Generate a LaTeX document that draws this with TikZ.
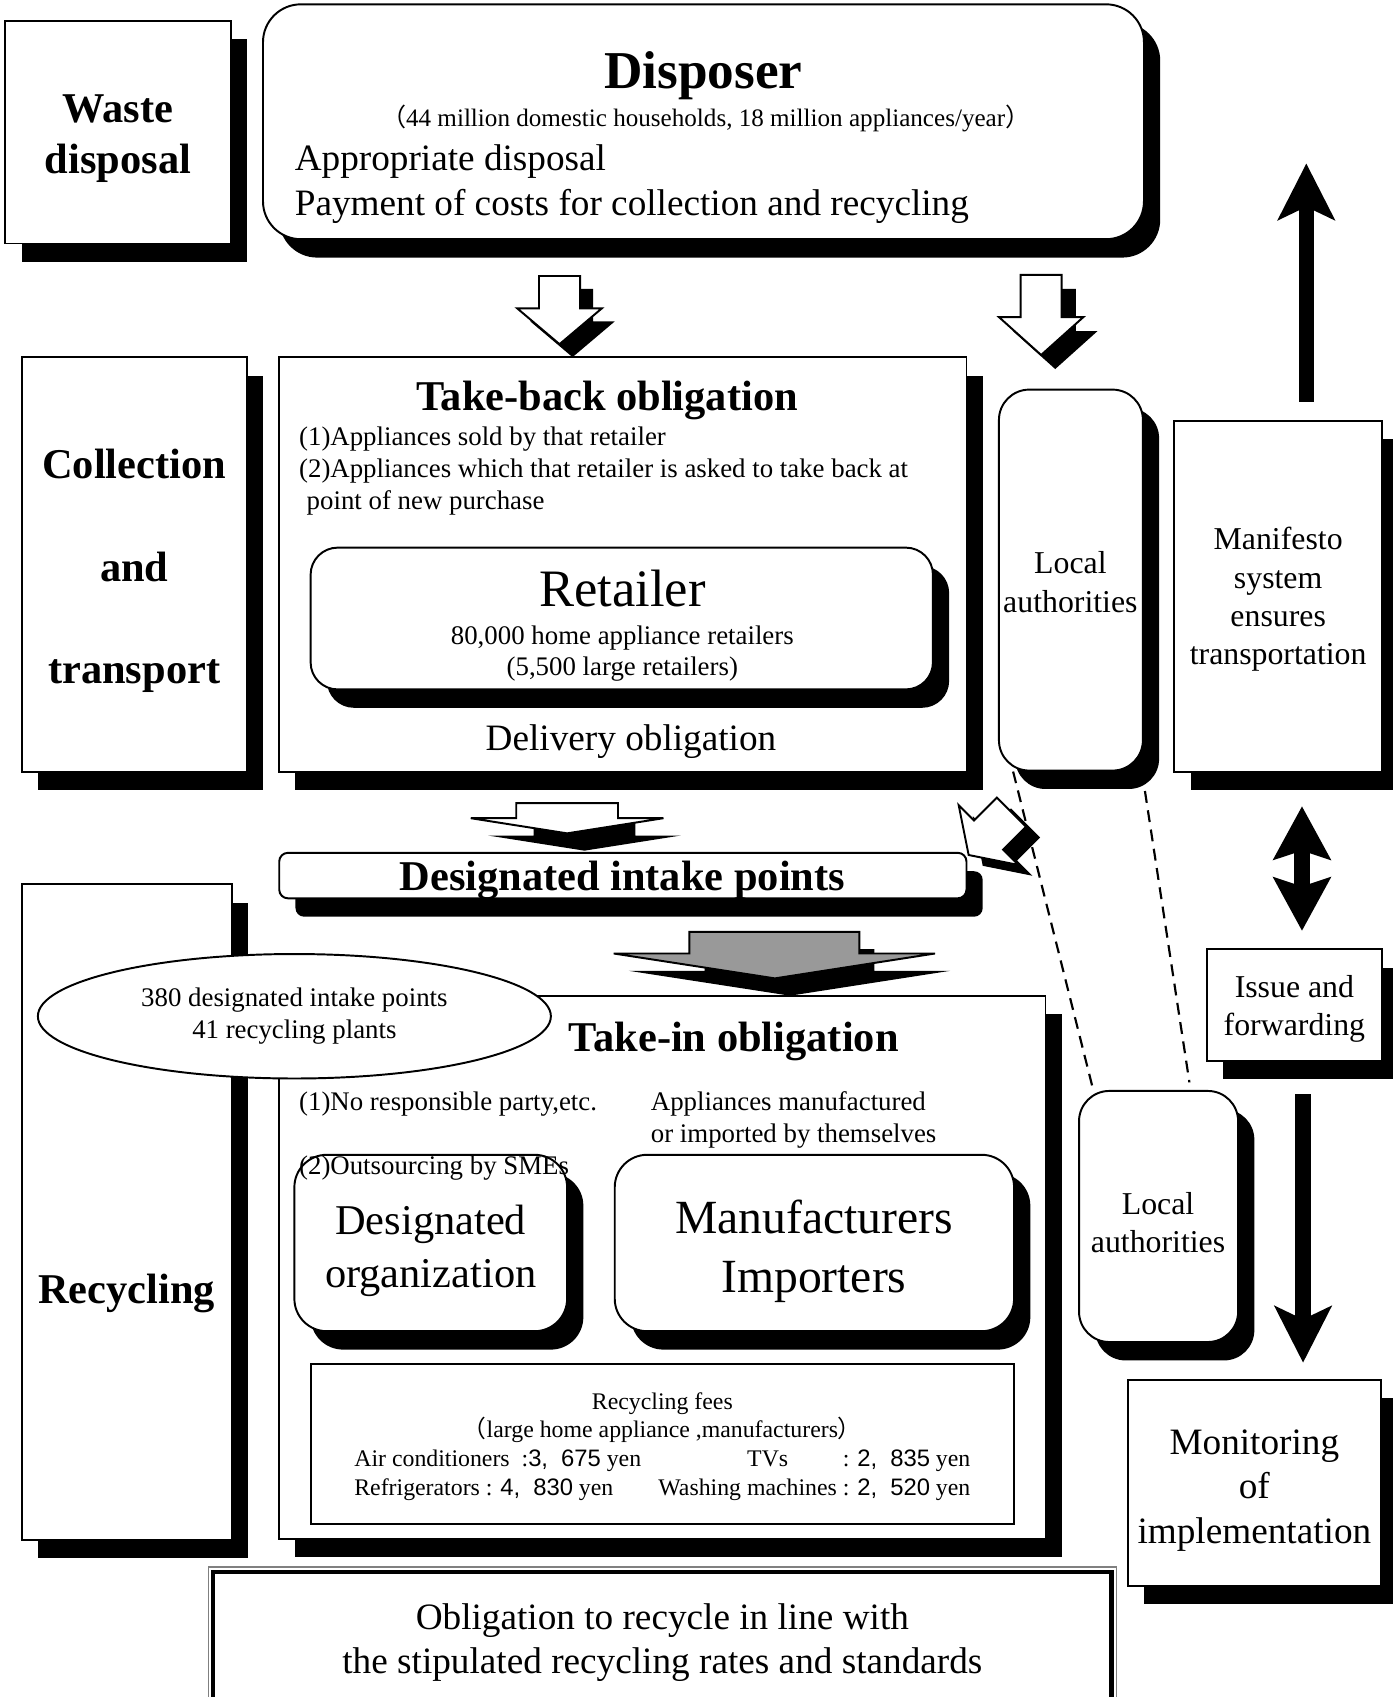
\documentclass[tikz,border=0pt]{standalone}
\usepackage{fontspec}
\setmainfont{Liberation Serif}
\newfontfamily\cjkfont{Noto Sans CJK JP}
\newfontfamily\numfont{Liberation Sans}
\usetikzlibrary{shapes.geometric,shadows,arrows.meta}
\definecolor{arrowgray}{gray}{0.6}

\begin{document}
\begin{tikzpicture}[x=0.5pt, y=-0.5pt,
	box/.style={draw, line width=0.9pt, fill=white, inner sep=0pt,
		drop shadow={shadow xshift=7.5pt, shadow yshift=-8.5pt, fill=black, opacity=1}},
	rbox/.style={box, rounded corners=#1},
	lbl/.style={font=\fontsize{19.6}{23.5}\selectfont\bfseries, align=center},
	mid/.style={font=\fontsize{17.2}{20.5}\selectfont, align=center},
	small/.style={font=\fontsize{12.4}{14.6}\selectfont, inner sep=0pt},
	side/.style={font=\fontsize{14.7}{17.7}\selectfont, align=center},
	fee/.style={font=\fontsize{11}{13.2}\selectfont, inner sep=0pt},
	fatarrow/.style={line width=7pt, -{Stealth[length=26pt, width=26pt, inset=6pt]}},
	dblarrow/.style={line width=7pt, {Stealth[length=24.5pt, width=26pt, inset=4pt]}-{Stealth[length=24.5pt, width=26pt, inset=4pt]}},
	dashline/.style={line width=1pt, dash pattern=on 5.5pt off 3.5pt},
	hollow/.style={draw, line width=0.9pt, fill=white, line join=miter}]
	\useasboundingbox (0,0) rectangle (1287,1568);
	% waste disposal row
	\node[box, minimum width=104pt, minimum height=103pt] (waste) at (109,122) {};
	\node[lbl] (wastetext) at (109,128) {Waste\\disposal};
	\node[rbox=17.5pt, minimum width=407pt, minimum height=108.5pt] (disp) at (650,112.5) {};
	\node[anchor=base, font=\fontsize{24.6}{29}\selectfont\bfseries] (disptitle) at (650,82) {Disposer};
	\node[anchor=base, font=\fontsize{11.6}{14}\selectfont, inner sep=0pt] (dispsub) at (652,117) {{\cjkfont （}44 million domestic households, 18 million appliances/year{\cjkfont ）}};
	\node[anchor=base west, mid, inner sep=0pt] (dispa) at (272,158) {Appropriate disposal};
	\node[anchor=base west, mid, inner sep=0pt] (dispb) at (272,199) {Payment of costs for collection and recycling};
	% hollow arrows
	\fill[shift={(529,330)}] (0,0) -- (-39,-33) -- (-19,-33) -- (-19,-63) -- (19,-63) -- (19,-33) -- (39,-33) -- cycle;
	\draw[hollow, shift={(517,318)}] (0,0) -- (-39,-33) -- (-19,-33) -- (-19,-63) -- (19,-63) -- (19,-33) -- (39,-33) -- cycle;
	\fill[shift={(975,341)}] (0,0) -- (-39,-35) -- (-19,-35) -- (-19,-74) -- (19,-74) -- (19,-35) -- (39,-35) -- cycle;
	\draw[hollow, shift={(962,328)}] (0,0) -- (-39,-35) -- (-19,-35) -- (-19,-74) -- (19,-74) -- (19,-35) -- (39,-35) -- cycle;
	% collection and transport row
	\node[box, minimum width=104pt, minimum height=191.5pt] (coll) at (124,521.5) {};
	\node[lbl] (colltext) at (124,527.5) {Collection\\[24pt]and\\[24pt]transport};
	\node[box, minimum width=317.5pt, minimum height=191.5pt] (takeback) at (575.5,521.5) {};
	\node[anchor=base, lbl] (tbtitle) at (561,379) {Take-back obligation};
	\node[anchor=base west, small] (tbone) at (276,411.5) {(1)Appliances sold by that retailer};
	\node[anchor=base west, small] (tbtwo) at (276,441.5) {(2)Appliances which that retailer is asked to take back at};
	\node[anchor=base west, small] (tbthree) at (283,470.5) {point of new purchase};
	\node[rbox=12.5pt, minimum width=287.5pt, minimum height=65.5pt] (retail) at (574.5,571.5) {};
	\node[anchor=base, font=\fontsize{24.3}{29}\selectfont] (rettitle) at (575,560) {Retailer};
	\node[anchor=base, small] (retone) at (575,595.5) {80,000 home appliance retailers};
	\node[anchor=base, small] (rettwo) at (575,624.5) {(5,500 large retailers)};
	\node[anchor=base, mid, inner sep=0pt] (deliv) at (583,693) {Delivery obligation};
	\node[rbox=14pt, minimum width=66.5pt, minimum height=176pt] (locA) at (989.5,536) {};
	\node[side] (locAtext) at (989,538) {Local\\authorities};
	\node[box, minimum width=96pt, minimum height=162pt] (mani) at (1181,551) {};
	\node[side] (manitext) at (1181,554) {Manifesto\\system\\ensures\\transportation};
	% manifesto arrows
	\coordinate (uptip) at (1207,151);
	\draw[fatarrow] ([shift={(13pt,8.5pt)}]mani.north) -- (uptip);
	\node[box, minimum width=81pt, minimum height=51.5pt] (issue) at (1196,928.5) {};
	\node[side] (issuetext) at (1196,932.5) {Issue and\\forwarding};
	\draw[dblarrow] ([shift={(11pt,-15.5pt)}]mani.south) -- ([shift={(3.5pt,8pt)}]issue.north);
	% designated intake points
	\fill[shift={(540,786)}] (0,0) -- (-89,-14) -- (-47,-14) -- (-47,-28) -- (47,-28) -- (47,-14) -- (89,-14) -- cycle;
	\draw[hollow, shift={(524,770)}] (0,0) -- (-89,-14) -- (-47,-14) -- (-47,-28) -- (47,-28) -- (47,-14) -- (89,-14) -- cycle;
	\node[rbox=4pt, minimum width=317.5pt, minimum height=21pt] (intake) at (575.5,809) {};
	\node[anchor=base, lbl] (intaketext) at (575,823) {Designated intake points};
	\fill[shift={(908,800)}, rotate=-45] (0,0) -- (-39,-26) -- (-19,-26) -- (-19,-56) -- (19,-56) -- (19,-26) -- (39,-26) -- cycle;
	\draw[hollow, shift={(895,790)}, rotate=-45] (0,0) -- (-39,-26) -- (-19,-26) -- (-19,-56) -- (19,-56) -- (19,-26) -- (39,-26) -- cycle;
	\fill[shift={(730,920)}] (0,0) -- (-149,-23) -- (-79,-23) -- (-79,-43) -- (78,-43) -- (78,-23) -- (148,-23) -- cycle;
	\draw[hollow, fill=arrowgray, shift={(716,904)}] (0,0) -- (-149,-23) -- (-79,-23) -- (-79,-43) -- (78,-43) -- (78,-23) -- (148,-23) -- cycle;
	% recycling row
	\node[box, minimum width=97pt, minimum height=303pt] (recyc) at (117,1120) {};
	\node[anchor=base, lbl] (recyctext) at (117,1204) {Recycling};
	\node[box, minimum width=354pt, minimum height=251pt] (takein) at (612,1171) {};
	\node[draw, line width=0.9pt, fill=white, ellipse, minimum width=237pt, minimum height=57.5pt, small, align=center] (ell) at (272,939) {380 designated intake points\\41 recycling plants};
	\node[anchor=base, lbl] (tititle) at (678,972) {Take-in obligation};
	\node[anchor=base west, small] (tione) at (276,1026.5) {(1)No responsible party,etc.};
	\node[anchor=base west, small] (timfr) at (601,1026.5) {Appliances manufactured};
	\node[anchor=base west, small] (timfrb) at (601,1055.5) {or imported by themselves};
	\node[rbox=15pt, minimum width=126pt, minimum height=81.5pt] (desorg) at (398,1148.5) {};
	\node[anchor=base west, small] (titwo) at (276,1085.5) {(2)Outsourcing by SMEs};
	\node[font=\fontsize{19.6}{24.5}\selectfont, align=center] (desorgtext) at (398,1156) {Designated\\organization};
	\node[rbox=15pt, minimum width=184.5pt, minimum height=81.5pt] (manu) at (752.5,1148.5) {};
	\node[font=\fontsize{22}{27.5}\selectfont, align=center] (manutext) at (752,1156) {Manufacturers\\Importers};
	\node[draw, line width=1pt, fill=white, minimum width=325pt, minimum height=74pt] (fees) at (612,1334) {};
	\node[anchor=base, fee] (feetitle) at (612,1302.6) {Recycling fees};
	\node[anchor=base, fee] (feesub) at (612,1328.6) {{\cjkfont （}large home appliance ,manufacturers{\cjkfont ）}};
	\node[anchor=base west, fee] (feeac) at (327,1354.6) {Air conditioners\ \ :{\numfont 3,\hspace{6pt}675} yen};
	\node[anchor=base west, fee] (feetv) at (690,1354.6) {TVs};
	\node[anchor=base east, fee] (feetvval) at (897,1354.6) {: {\numfont 2,\hspace{6pt}835} yen};
	\node[anchor=base west, fee] (feeref) at (327,1381.6) {Refrigerators : {\numfont 4,\hspace{6pt}830} yen};
	\node[anchor=base east, fee] (feewash) at (897,1381.6) {Washing machines : {\numfont 2,\hspace{6pt}520} yen};
	% local authorities and monitoring
	\node[rbox=14pt, minimum width=73.5pt, minimum height=116pt] (locB) at (1070.5,1124) {};
	\node[side] (locBtext) at (1070,1129.5) {Local\\authorities};
	\node[box, minimum width=117pt, minimum height=95pt] (moni) at (1159,1370) {};
	\node[mid] (monitext) at (1159,1377) {Monitoring\\of\\implementation};
	\draw[fatarrow] ([shift={(4pt,-15pt)}]issue.south) -- ([shift={(22.5pt,7.5pt)}]moni.north);
	\draw[dashline] ([xshift=7pt]locA.south west) -- ([xshift=7pt]locB.north west);
	\draw[dashline] ([shift={(0.5pt,-9pt)}]locA.south east) -- ([shift={(14.25pt,3.5pt)}]locB.north);
	% obligation
	\node[draw, line width=2pt, fill=white, mid, minimum width=415pt, minimum height=65.5pt] (oblig) at (612,1518) {Obligation to recycle in line with\\the stipulated recycling rates and standards};
	\draw[gray, line width=0.6pt] ([shift={(-1.3pt,1.3pt)}]oblig.north west) rectangle ([shift={(1.3pt,-1.3pt)}]oblig.south east);
\end{tikzpicture}
\end{document}
